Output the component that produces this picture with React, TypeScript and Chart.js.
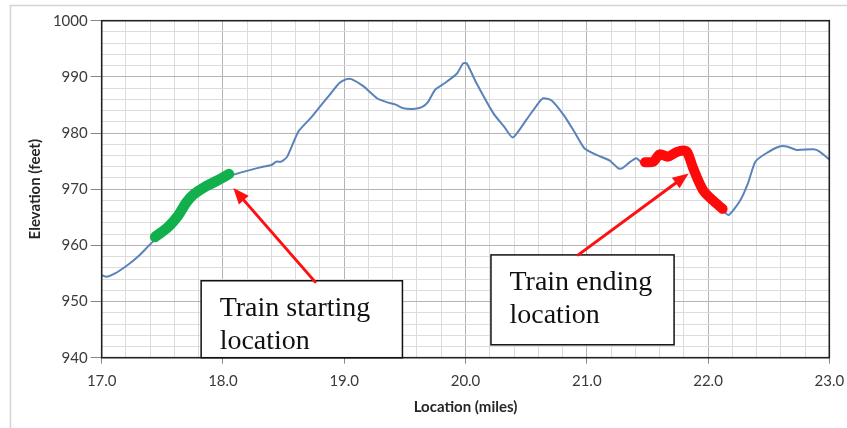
import React, { useEffect, useRef } from 'react';
import { Chart, registerables } from 'chart.js';

Chart.register(...registerables);

// Elevation profile (miles, feet)
const profileMiles = [
  17.0, 17.04, 17.11, 17.22, 17.3, 17.4, 17.44, 17.55, 17.63, 17.74, 17.85, 17.96, 18.06,
  18.22, 18.33, 18.4, 18.44, 18.48, 18.53, 18.62, 18.72, 18.8, 18.88, 18.96, 19.02, 19.06,
  19.16, 19.27, 19.35, 19.42, 19.49, 19.57, 19.64, 19.69, 19.75, 19.83, 19.93, 19.98, 20.01,
  20.09, 20.23, 20.32, 20.39, 20.5, 20.6, 20.64, 20.71, 20.81, 20.89, 20.98, 21.08, 21.19,
  21.26, 21.29, 21.36, 21.41, 21.46, 21.55, 21.6, 21.68, 21.75, 21.82, 21.88, 21.96, 22.04,
  22.12, 22.17, 22.26, 22.33, 22.39, 22.48, 22.59, 22.65, 22.73, 22.87, 22.92, 23.0,
];
const profileFeet = [
  954.7, 954.4, 955.0, 956.6, 958.0, 960.2, 961.0, 962.6, 964.8, 968.4, 970.0, 971.3, 972.4,
  973.4, 974.0, 974.3, 974.9, 974.9, 975.8, 980.2, 982.6, 984.7, 986.8, 988.9, 989.6, 989.6,
  988.3, 986.2, 985.5, 985.1, 984.4, 984.3, 984.6, 985.5, 987.7, 988.9, 990.6, 992.4, 992.4,
  988.9, 983.5, 981.1, 979.2, 982.3, 985.3, 986.2, 985.8, 983.2, 980.5, 977.3, 976.1, 975.1,
  973.7, 973.7, 974.9, 975.5, 974.6, 974.8, 976.2, 975.6, 976.6, 976.7, 973.4, 969.6, 967.8,
  966.3, 965.4, 967.8, 971.1, 974.9, 976.4, 977.6, 977.6, 977.0, 977.1, 976.7, 975.3,
];

// Train starting segment (green)
const startMiles = [17.44, 17.49, 17.55, 17.63, 17.7, 17.76, 17.85, 17.96, 18.05];
const startFeet = [961.5, 962.3, 963.3, 965.3, 967.7, 969.1, 970.4, 971.6, 972.7];

// Train ending segment (red)
const endMiles = [21.48, 21.55, 21.6, 21.67, 21.74, 21.8, 21.83, 21.88, 21.96, 22.04, 22.12];
const endFeet = [974.8, 974.9, 976.2, 975.8, 976.6, 976.9, 976.5, 973.6, 969.8, 968.0, 966.5];

// Axis settings
const xMin = 17, xMax = 23, xStep = 0.2;
const yMin = 940, yMax = 1000, yStep = 2, yMajor = 10;
const xTitle = 'Location (miles)';
const yTitle = 'Elevation (feet)';

// Callout annotations (data units)
const boxTexts = [
  ['Train starting', 'location'],
  ['Train ending', 'location'],
];
const boxRects = [
  { x0: 17.82, x1: 19.48, yTop: 953.7, yBottom: 940 },
  { x0: 20.21, x1: 21.72, yTop: 958.3, yBottom: 942.3 },
];
const arrows = [
  { fromX: 18.76, fromY: 953.5, toX: 18.085, toY: 970.2 },
  { fromX: 20.93, fromY: 958.3, toX: 21.84, toY: 972.8 },
];

const isWhole = (v: number) => Math.abs(v - Math.round(v)) < 1e-6;

const annotationPlugin = {
  id: 'callouts',
  afterDraw(chart: any) {
    const { ctx, chartArea } = chart;
    const xs = chart.scales.x;
    const ys = chart.scales.y;
    ctx.save();
    // plot border
    ctx.strokeStyle = '#222';
    ctx.lineWidth = 1.6;
    ctx.strokeRect(chartArea.left, chartArea.top, chartArea.right - chartArea.left, chartArea.bottom - chartArea.top);

    // boxes
    boxRects.forEach((b, i) => {
      const l = xs.getPixelForValue(b.x0);
      const r = xs.getPixelForValue(b.x1);
      const t = ys.getPixelForValue(b.yTop);
      const bt = ys.getPixelForValue(b.yBottom);
      ctx.fillStyle = '#fff';
      ctx.fillRect(l, t, r - l, bt - t);
      ctx.strokeStyle = '#111';
      ctx.lineWidth = 1.5;
      ctx.strokeRect(l, t, r - l, bt - t);
      ctx.fillStyle = '#111';
      ctx.font = '28px "Liberation Serif", "Times New Roman", serif';
      ctx.textBaseline = 'alphabetic';
      ctx.textAlign = 'left';
      ctx.fillText(boxTexts[i][0], l + 18.5, t + 35.5);
      ctx.fillText(boxTexts[i][1], l + 18.5, t + 68);
    });

    // arrows
    arrows.forEach((a) => {
      const x1 = xs.getPixelForValue(a.fromX);
      const y1 = ys.getPixelForValue(a.fromY);
      const x2 = xs.getPixelForValue(a.toX);
      const y2 = ys.getPixelForValue(a.toY);
      const ang = Math.atan2(y2 - y1, x2 - x1);
      const headLen = 16;
      const headW = 6.5;
      const bx = x2 - headLen * Math.cos(ang);
      const by = y2 - headLen * Math.sin(ang);
      ctx.strokeStyle = '#ff1010';
      ctx.lineWidth = 3;
      ctx.lineCap = 'round';
      ctx.beginPath();
      ctx.moveTo(x1, y1);
      ctx.lineTo(bx + 3 * Math.cos(ang), by + 3 * Math.sin(ang));
      ctx.stroke();
      ctx.fillStyle = '#ff1010';
      ctx.beginPath();
      ctx.moveTo(x2, y2);
      ctx.lineTo(bx + headW * Math.sin(ang), by - headW * Math.cos(ang));
      ctx.lineTo(bx - headW * Math.sin(ang), by + headW * Math.cos(ang));
      ctx.closePath();
      ctx.fill();
    });

    // outer frame
    ctx.strokeStyle = '#d4d4d4';
    ctx.lineWidth = 1.5;
    ctx.beginPath();
    ctx.moveTo(10.5, chart.height);
    ctx.lineTo(10.5, 5.5);
    ctx.lineTo(chart.width, 5.5);
    ctx.stroke();
    ctx.restore();
  },
};

const bgPlugin = {
  id: 'bg',
  beforeDraw(chart: any) {
    const { ctx } = chart;
    ctx.save();
    ctx.fillStyle = '#fff';
    ctx.fillRect(0, 0, chart.width, chart.height);
    ctx.restore();
  },
};

export default function App() {
  const canvasRef = useRef<HTMLCanvasElement | null>(null);

  useEffect(() => {
    if (!canvasRef.current) return;
    const toPts = (xs: number[], ys: number[]) => xs.map((x, i) => ({ x, y: ys[i] }));
    const chart = new Chart(canvasRef.current, {
      type: 'scatter',
      data: {
        datasets: [
          {
            label: 'Start',
            data: toPts(startMiles, startFeet),
            showLine: true,
            borderColor: '#11b04c',
            borderWidth: 10.5,
            borderCapStyle: 'round',
            borderJoinStyle: 'round',
            pointRadius: 0,
            tension: 0.3,
          },
          {
            label: 'End',
            data: toPts(endMiles, endFeet),
            showLine: true,
            borderColor: '#ff0a0a',
            borderWidth: 10,
            borderCapStyle: 'round',
            borderJoinStyle: 'round',
            pointRadius: 0,
            tension: 0.3,
          },
          {
            label: 'Elevation',
            data: toPts(profileMiles, profileFeet),
            showLine: true,
            borderColor: '#5a83b9',
            borderWidth: 2,
            pointRadius: 0,
            tension: 0.2,
          },
        ],
      },
      options: {
        animation: false,
        responsive: true,
        maintainAspectRatio: false,
        layout: { padding: { left: 0, top: 20.7, right: 17.7, bottom: 0 } },
        plugins: {
          legend: { display: false },
          tooltip: { enabled: false },
        },
        scales: {
          x: {
            type: 'linear',
            min: xMin,
            max: xMax,
            afterFit: (s: any) => { s.height = 70.3; s.paddingRight = 0; s.paddingLeft = 0; },
            border: { display: false },
            grid: {
              color: (c: any) => (isWhole(c.tick?.value ?? 0) ? '#b4b4b4' : '#dcdcdc'),
              tickColor: (c: any) => (isWhole(c.tick?.value ?? 0) ? '#888' : 'rgba(0,0,0,0)'),
              tickLength: 6,
              lineWidth: 1,
            },
            ticks: {
              stepSize: xStep,
              autoSkip: false,
              maxRotation: 0,
              padding: 8,
              color: '#3a3a3a',
              font: { family: 'Lato', size: 15 },
              callback: (v: any) => (isWhole(Number(v)) ? Number(v).toFixed(1) : ''),
            },
            title: {
              display: true,
              text: xTitle,
              color: '#262626',
              font: { family: 'Lato', size: 15, weight: 'bold' },
              padding: { top: 0, bottom: 12.3 },
            },
          },
          y: {
            type: 'linear',
            min: yMin,
            max: yMax,
            afterFit: (s: any) => { s.width = 101.7; s.paddingTop = 0; s.paddingBottom = 0; },
            border: { display: false },
            grid: {
              color: (c: any) => ((c.tick?.value ?? 0) % yMajor === 0 ? '#b4b4b4' : '#dcdcdc'),
              tickColor: (c: any) => ((c.tick?.value ?? 0) % yMajor === 0 ? '#888' : 'rgba(0,0,0,0)'),
              tickLength: 11,
              lineWidth: 1,
            },
            ticks: {
              stepSize: yStep,
              autoSkip: false,
              padding: 3,
              color: '#3a3a3a',
              font: { family: 'Lato', size: 15 },
              callback: (v: any) => (Number(v) % yMajor === 0 ? String(v) : ''),
            },
            title: {
              display: true,
              text: yTitle,
              color: '#262626',
              font: { family: 'Lato', size: 15, weight: 'bold' },
              padding: { top: 26.5, bottom: 0 },
            },
          },
        },
      },
      plugins: [bgPlugin, annotationPlugin],
    } as any);
    return () => chart.destroy();
  }, []);

  return (
    <div style={{ position: 'absolute', left: 0, top: 0, width: 847, height: 428 }}>
      <canvas ref={canvasRef} />
    </div>
  );
}
